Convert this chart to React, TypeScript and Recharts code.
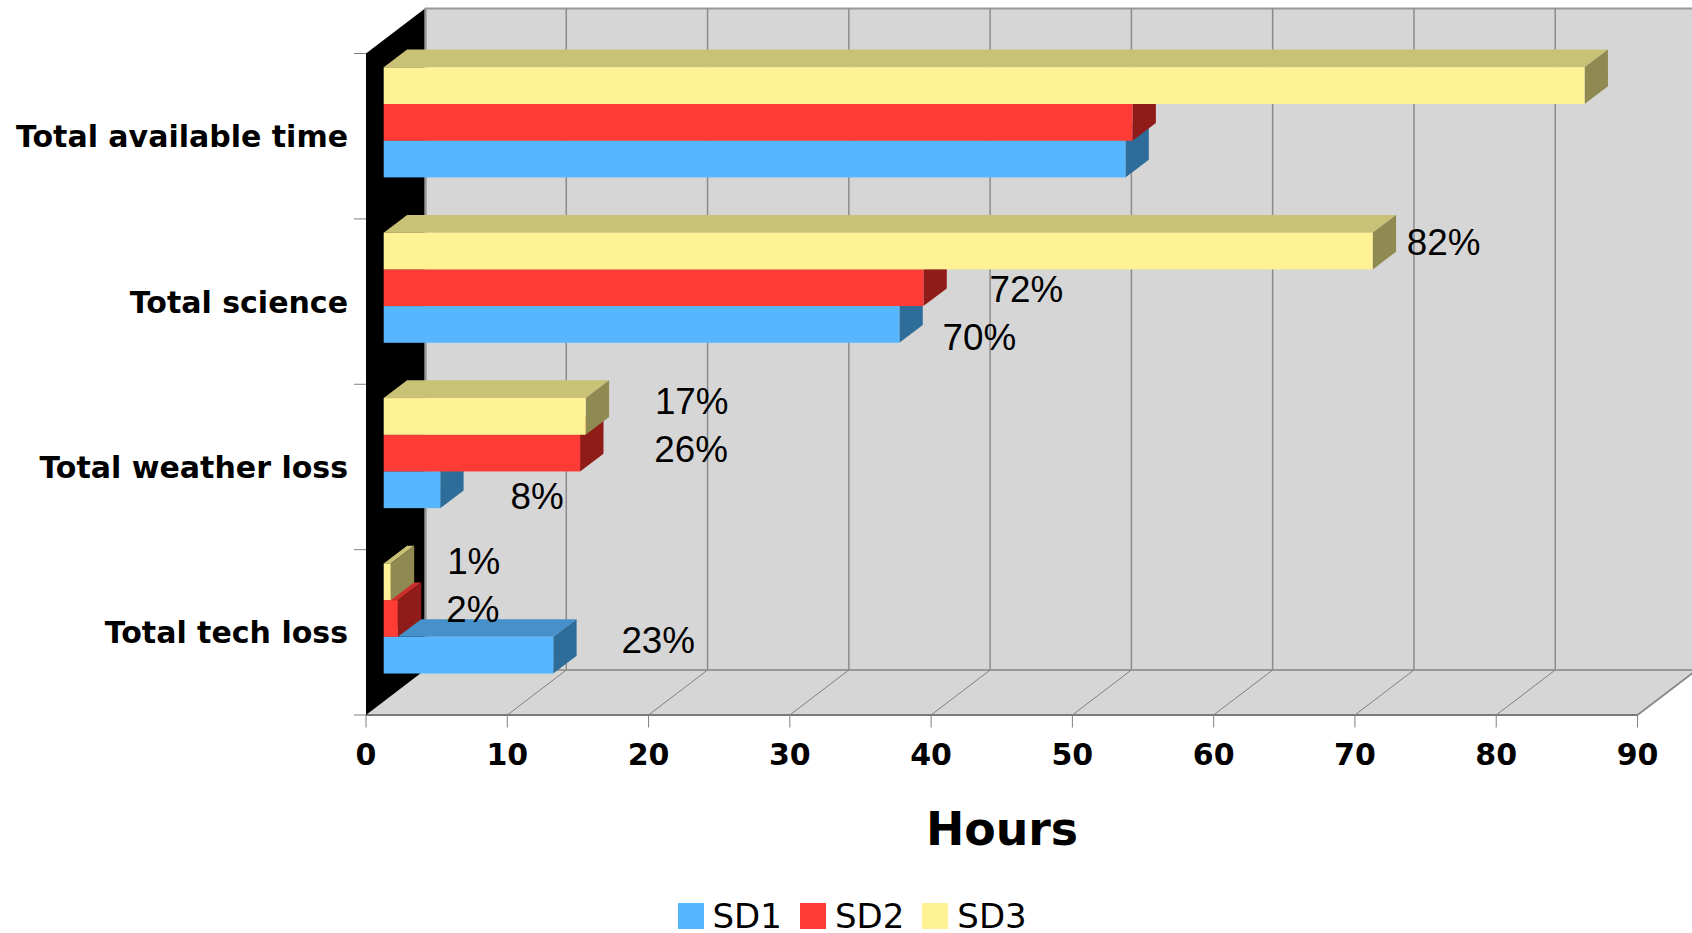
import { BarChart, Bar, XAxis, YAxis, CartesianGrid, Legend, LabelList } from "recharts";

const categories = ["Total available time", "Total science", "Total weather loss", "Total tech loss"];
const sd1Hours = [52.5, 36.5, 4.0, 12.0];
const sd2Hours = [53.0, 38.2, 13.9, 1.0];
const sd3Hours = [85.0, 70.0, 14.3, 0.5];
const sd1Labels = [null, "70%", "8%", "23%"];
const sd2Labels = [null, "72%", "26%", "2%"];
const sd3Labels = [null, "82%", "17%", "1%"];
const hourTicks = [0, 10, 20, 30, 40, 50, 60, 70, 80, 90];

const data = categories.map((category, i) => ({
  category,
  sd1: sd1Hours[i],
  sd2: sd2Hours[i],
  sd3: sd3Hours[i],
  sd1Label: sd1Labels[i],
  sd2Label: sd2Labels[i],
  sd3Label: sd3Labels[i],
}));

// hand placed percentage labels, relative to the end of each bar
const sd1Nudges = [[0, 0], [80, 13.5], [97, 7], [105, -14.5]];
const sd2Nudges = [[0, 0], [103, 1.5], [111, -4], [75, -8.5]];
const sd3Nudges = [[0, 0], [71, -8.5], [106, -15], [83, -20]];

const WIDTH = 1692;
const HEIGHT = 933;
const PLOT_LEFT = 383.7;
const PLOT_WIDTH = 1271.5;
const PLOT_TOP = 40;
const PLOT_BOTTOM = 701.5;
const BAND = (PLOT_BOTTOM - PLOT_TOP) / categories.length;
const BAR_SIZE = 36.7;
const BAR_DX = 23.4;
const BAR_DY = 17.7;

// the bars stand inside a box: front plane is down-left, back wall up-right
const FRONT_DX = -17.7;
const FRONT_DY = 13.5;
const BACK_DX = 41.3;
const BACK_DY = -31.5;

const FRONT_LEFT = PLOT_LEFT + FRONT_DX;
const FRONT_RIGHT = PLOT_LEFT + PLOT_WIDTH + FRONT_DX;
const FRONT_TOP = PLOT_TOP + FRONT_DY;
const FRONT_BOTTOM = PLOT_BOTTOM + FRONT_DY;
const BACK_LEFT = PLOT_LEFT + BACK_DX;
const BACK_RIGHT = PLOT_LEFT + PLOT_WIDTH + BACK_DX;
const BACK_TOP = PLOT_TOP + BACK_DY;
const BACK_BOTTOM = PLOT_BOTTOM + BACK_DY;

const FONT = "'DejaVu Sans', sans-serif";
const LABEL_FONT = "'Liberation Sans', Arial, sans-serif";
const WALL = "#d6d6d6";

const pts = (list: number[][]) => list.map((p) => p.join(",")).join(" ");

function Walls() {
  return (
    <svg width={WIDTH} height={HEIGHT} style={{ position: "absolute", left: 0, top: 0 }}>
      <rect x={BACK_LEFT} y={BACK_TOP} width={BACK_RIGHT - BACK_LEFT} height={BACK_BOTTOM - BACK_TOP} fill={WALL} />
      <polygon
        points={pts([
          [FRONT_LEFT, FRONT_BOTTOM],
          [FRONT_RIGHT, FRONT_BOTTOM],
          [BACK_RIGHT, BACK_BOTTOM],
          [BACK_LEFT, BACK_BOTTOM],
        ])}
        fill={WALL}
      />
      <line x1={BACK_LEFT} y1={BACK_TOP} x2={WIDTH} y2={BACK_TOP} stroke="#999" strokeWidth={2} />
      <line x1={BACK_LEFT} y1={BACK_BOTTOM} x2={WIDTH} y2={BACK_BOTTOM} stroke="#999" strokeWidth={2} />
      <line x1={FRONT_LEFT} y1={FRONT_BOTTOM} x2={FRONT_RIGHT} y2={FRONT_BOTTOM} stroke="#7a7a7a" strokeWidth={2} />
      <line x1={FRONT_RIGHT} y1={FRONT_BOTTOM} x2={BACK_RIGHT} y2={BACK_BOTTOM} stroke="#999" strokeWidth={2} />
      <line x1={BACK_LEFT + 1} y1={BACK_TOP} x2={BACK_LEFT + 1} y2={BACK_BOTTOM} stroke="#aaa" strokeWidth={2} />
      <polygon
        points={pts([
          [FRONT_LEFT, FRONT_TOP],
          [BACK_LEFT, BACK_TOP],
          [BACK_LEFT, BACK_BOTTOM],
          [FRONT_LEFT, FRONT_BOTTOM],
        ])}
        fill="#000"
      />
    </svg>
  );
}

// one line up the back wall and one across the floor for each hour tick
function gridLine(props: any) {
  const { x1, index } = props;
  return (
    <g key={index}>
      <line x1={x1 + BACK_DX} y1={BACK_TOP} x2={x1 + BACK_DX} y2={BACK_BOTTOM} stroke="#8c8c8c" strokeWidth={1.5} />
      {index > 0 && (
        <line x1={x1 + FRONT_DX} y1={FRONT_BOTTOM} x2={x1 + BACK_DX} y2={BACK_BOTTOM} stroke="#808080" strokeWidth={1} />
      )}
    </g>
  );
}

function boxShape(front: string, top: string, side: string, lane: number) {
  return (props: any) => {
    const { x, width, height } = props;
    const y = props.y + lane;
    const right = x + width;
    return (
      <g>
        <polygon
          points={pts([
            [x, y],
            [right, y],
            [right + BAR_DX, y - BAR_DY],
            [x + BAR_DX, y - BAR_DY],
          ])}
          fill={top}
        />
        <polygon
          points={pts([
            [right, y],
            [right + BAR_DX, y - BAR_DY],
            [right + BAR_DX, y + height - BAR_DY],
            [right, y + height],
          ])}
          fill={side}
        />
        <rect x={x} y={y} width={width} height={height} fill={front} />
      </g>
    );
  };
}

function percentLabel(nudges: number[][], lane: number) {
  return (props: any) => {
    const { x, y, width, height, value, index } = props;
    if (value == null) return null;
    const [dx, dy] = nudges[index];
    return (
      <text
        x={x + width + dx}
        y={y + lane + height / 2 + dy}
        textAnchor="middle"
        dominantBaseline="central"
        fontFamily={LABEL_FONT}
        fontSize={36.8}
        fill="#000"
      >
        {value}
      </text>
    );
  };
}

function categoryTick(props: any) {
  const { y, payload, index } = props;
  const tickY = y + FRONT_DY;
  const markTop = tickY - BAND / 2;
  const markBottom = tickY + BAND / 2;
  return (
    <g>
      <line x1={FRONT_LEFT - 12} y1={markTop} x2={FRONT_LEFT} y2={markTop} stroke="#808080" />
      {index === categories.length - 1 && (
        <line x1={FRONT_LEFT - 12} y1={markBottom} x2={FRONT_LEFT} y2={markBottom} stroke="#808080" />
      )}
      <text
        x={348}
        y={tickY + 0.5}
        textAnchor="end"
        dominantBaseline="central"
        fontFamily={FONT}
        fontWeight="bold"
        fontSize={30}
        fill="#000"
      >
        {payload.value}
      </text>
    </g>
  );
}

function hourTick(props: any) {
  const { x, payload } = props;
  const tickX = x + FRONT_DX;
  return (
    <g>
      <line x1={tickX} y1={FRONT_BOTTOM} x2={tickX} y2={FRONT_BOTTOM + 12.5} stroke="#808080" />
      <text
        x={tickX}
        y={754}
        textAnchor="middle"
        dominantBaseline="central"
        fontFamily={FONT}
        fontWeight="bold"
        fontSize={30}
        fill="#000"
      >
        {payload.value}
      </text>
    </g>
  );
}

function hoursTitle() {
  return (
    <text
      x={1002}
      y={829}
      textAnchor="middle"
      dominantBaseline="central"
      fontFamily={FONT}
      fontWeight="bold"
      fontSize={45.8}
      fill="#000"
    >
      Hours
    </text>
  );
}

function legendContent(props: any) {
  return (
    <div style={{ display: "flex", alignItems: "center", height: 34 }}>
      {props.payload.map((item: any) => (
        <div key={item.value} style={{ display: "flex", alignItems: "center", marginRight: 18 }}>
          <span style={{ width: 26, height: 26, background: item.color, marginRight: 9 }} />
          <span style={{ fontFamily: FONT, fontSize: 34, lineHeight: "34px", color: "#000" }}>{item.value}</span>
        </div>
      ))}
    </div>
  );
}

const LEGEND_HEIGHT = 34;
const MARGIN_BOTTOM = 1;

export default function App() {
  return (
    <div style={{ position: "absolute", left: 0, top: 0, width: WIDTH, height: HEIGHT, background: "#fff" }}>
      <Walls />
      <div style={{ position: "absolute", left: 0, top: 0 }}>
        <BarChart
          width={WIDTH}
          height={HEIGHT}
          data={data}
          layout="vertical"
          margin={{ top: PLOT_TOP, left: PLOT_LEFT - 60, right: WIDTH - PLOT_LEFT - PLOT_WIDTH, bottom: MARGIN_BOTTOM }}
        >
          <CartesianGrid yAxisId="sd1" horizontal={false} vertical={gridLine} />
          <XAxis
            type="number"
            domain={[0, 90]}
            ticks={hourTicks}
            height={HEIGHT - PLOT_BOTTOM - LEGEND_HEIGHT - MARGIN_BOTTOM}
            axisLine={false}
            tickLine={false}
            tick={hourTick}
            interval={0}
            label={hoursTitle}
          />
          <YAxis yAxisId="sd1" type="category" dataKey="category" width={60} axisLine={false} tickLine={false} tick={categoryTick} interval={0} />
          <YAxis yAxisId="sd2" type="category" dataKey="category" hide />
          <YAxis yAxisId="sd3" type="category" dataKey="category" hide />
          <Legend content={legendContent} wrapperStyle={{ left: 677.5, width: 400, bottom: 0 }} />
          {/* painted lowest first so each front face hides the box below it */}
          <Bar
            yAxisId="sd1"
            dataKey="sd1"
            name="SD1"
            fill="#56b7ff"
            barSize={BAR_SIZE}
            isAnimationActive={false}
            shape={boxShape("#56b7ff", "#4691ca", "#2e6d99", BAR_SIZE)}
          >
            <LabelList dataKey="sd1Label" content={percentLabel(sd1Nudges, BAR_SIZE)} />
          </Bar>
          <Bar
            yAxisId="sd2"
            dataKey="sd2"
            name="SD2"
            fill="#ff3b36"
            barSize={BAR_SIZE}
            isAnimationActive={false}
            shape={boxShape("#ff3b36", "#cc2f2b", "#8f1c19", 0)}
          >
            <LabelList dataKey="sd2Label" content={percentLabel(sd2Nudges, 0)} />
          </Bar>
          <Bar
            yAxisId="sd3"
            dataKey="sd3"
            name="SD3"
            fill="#fff295"
            barSize={BAR_SIZE}
            isAnimationActive={false}
            shape={boxShape("#fff295", "#c9c276", "#8f8a52", -BAR_SIZE)}
          >
            <LabelList dataKey="sd3Label" content={percentLabel(sd3Nudges, -BAR_SIZE)} />
          </Bar>
        </BarChart>
      </div>
    </div>
  );
}
